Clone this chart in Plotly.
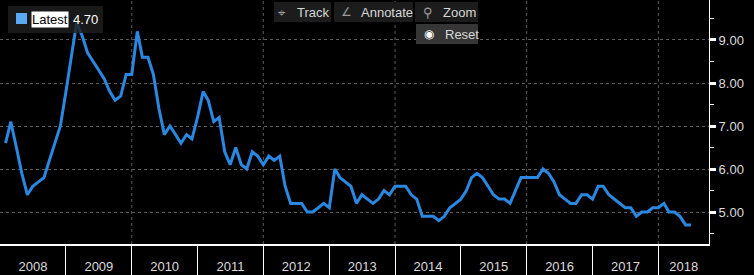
import pandas as pd
import plotly.graph_objects as go

# ---- data (monthly) ----
start_month = "2008-02-01"
values = [
    6.6, 7.1, 6.5, 5.9, 5.4, 5.6, 5.7, 5.8, 6.2, 6.6,
    7.0, 7.8, 8.6, 9.4, 9.1, 8.7, 8.5, 8.3, 8.1, 7.8,
    7.6, 7.7, 8.2, 8.2, 9.2, 8.6, 8.6, 8.2, 7.4, 6.8,
    7.0, 6.8, 6.6, 6.8, 6.7, 7.2, 7.8, 7.6, 7.1, 7.2,
    6.4, 6.1, 6.5, 6.1, 6.0, 6.4, 6.3, 6.1, 6.3, 6.2,
    6.3, 5.6, 5.2, 5.2, 5.2, 5.0, 5.0, 5.1, 5.2, 5.1,
    6.0, 5.8, 5.7, 5.6, 5.2, 5.4, 5.3, 5.2, 5.3, 5.5,
    5.4, 5.6, 5.6, 5.6, 5.4, 5.3, 4.9, 4.9, 4.9, 4.8,
    4.9, 5.1, 5.2, 5.3, 5.5, 5.8, 5.9, 5.8, 5.6, 5.4,
    5.3, 5.3, 5.2, 5.5, 5.8, 5.8, 5.8, 5.8, 6.0, 5.9,
    5.7, 5.4, 5.3, 5.2, 5.2, 5.4, 5.4, 5.3, 5.6, 5.6,
    5.4, 5.3, 5.2, 5.1, 5.1, 4.9, 5.0, 5.0, 5.1, 5.1,
    5.2, 5.0, 5.0, 4.9, 4.7, 4.7,
]
years = [2008, 2009, 2010, 2011, 2012, 2013, 2014, 2015, 2016, 2017, 2018]
grid_years = [2010, 2012, 2014, 2016, 2018]
y_ticks = [5, 6, 7, 8, 9]
y_minor = [4.5, 5.5, 6.5, 7.5, 8.5, 9.5]
latest_label = "Latest"

dates = pd.date_range(start_month, periods=len(values), freq="MS")
x_start = pd.Timestamp("2008-01-01")
x_end = pd.Timestamp("2018-10-09")

# year labels centred in the visible part of each year
label_pos = []
for yv in years:
    a = pd.Timestamp(f"{yv}-01-01")
    b = min(pd.Timestamp(f"{yv + 1}-01-01"), x_end)
    label_pos.append(a + (b - a) / 2)
separators = [pd.Timestamp(f"{yv}-01-01") for yv in years[1:]]

W, H = 754, 275
ML, MR, MT, MB = 0, 45, 0, 31
PW, PH = W - ML - MR, H - MT - MB


def fx(px):
    return (px - ML) / PW


def fy(py):
    return 1 - (py - MT) / PH


BLUE = "#2b88e0"
GRID = "#5c5c5c"
FONT = "Liberation Sans, Arial, sans-serif"

fig = go.Figure()
fig.add_trace(go.Scatter(
    x=dates, y=values, mode="lines",
    line=dict(color=BLUE, width=3),
    hoverinfo="skip", showlegend=False,
))

shapes = []
for gy in grid_years:
    shapes.append(dict(type="line", xref="x", yref="paper",
                       x0=f"{gy}-01-01", x1=f"{gy}-01-01", y0=0, y1=1,
                       line=dict(color=GRID, width=1, dash="dot"), layer="below"))

# legend box
shapes.append(dict(type="rect", xref="paper", yref="paper",
                   x0=fx(8), x1=fx(103), y0=fy(33), y1=fy(6),
                   fillcolor="rgba(30,30,30,0.82)", line=dict(width=0), layer="above"))
shapes.append(dict(type="rect", xref="paper", yref="paper",
                   x0=fx(16), x1=fx(27), y0=fy(24), y1=fy(13),
                   fillcolor="#5aa9f2", line=dict(width=0), layer="above"))

# toolbar boxes
for (x0, x1, y0, y1, col) in [(274, 331, 2, 22, "#1c1c1c"), (334, 413, 2, 22, "#1c1c1c"),
                              (415, 478, 2, 22, "#1c1c1c"), (416, 478, 24, 44, "#363636")]:
    shapes.append(dict(type="rect", xref="paper", yref="paper",
                       x0=fx(x0), x1=fx(x1), y0=fy(y1), y1=fy(y0),
                       fillcolor=col, line=dict(width=0), layer="above"))

annotations = []


def txt(text, px, py, color="#d6d6d6", size=13, anchor="left", bg=None, pad=1):
    d = dict(text=text, xref="paper", yref="paper", x=fx(px), y=fy(py),
             xanchor=anchor, yanchor="middle", showarrow=False,
             font=dict(family=FONT, size=size, color=color), borderpad=pad)
    if bg:
        d["bgcolor"] = bg
    annotations.append(d)


txt(latest_label, 31, 19, color="#000000", bg="#ffffff", pad=0)
txt(f"{values[-1]:.2f}", 71, 19, color="#ffffff")
txt("⌖", 282, 12, color="#9a9a9a", size=13, anchor="center")
txt("Track", 295, 12)
txt("∠", 346, 12, color="#9a9a9a", size=12, anchor="center")
txt("Annotate", 359, 12)
txt("⚲", 428, 12, color="#9a9a9a", size=13, anchor="center")
txt("Zoom", 441, 12)
txt("◉", 429, 34, color="#ffffff", size=12, anchor="center")
txt("Reset", 443, 34)

fig.update_layout(
    width=W, height=H,
    margin=dict(l=ML, r=MR, t=MT, b=MB),
    paper_bgcolor="#000000", plot_bgcolor="#000000",
    font=dict(family=FONT, size=13, color="#dcdcdc"),
    shapes=shapes, annotations=annotations,
    xaxis=dict(
        range=[x_start, x_end],
        tickmode="array", tickvals=label_pos, ticktext=[str(y) for y in years],
        ticks="", showgrid=False, zeroline=False, ticklabelstandoff=9,
        showline=True, linecolor="#ffffff", linewidth=2,
        tickfont=dict(family=FONT, size=13, color="#dcdcdc"),
        minor=dict(tickmode="array", tickvals=separators,
                   ticks="outside", ticklen=31, tickcolor="#ffffff", tickwidth=1,
                   showgrid=False),
        fixedrange=True,
    ),
    yaxis=dict(
        side="right", range=[4.256, 9.93],
        tickmode="array", tickvals=y_ticks, ticktext=[f"{v:.2f}" for v in y_ticks],
        ticks="outside", ticklen=6, tickwidth=3, tickcolor="#ffffff",
        showgrid=True, gridcolor=GRID, griddash="dot", gridwidth=1,
        zeroline=False, showline=True, linecolor="#ffffff", linewidth=1,
        tickfont=dict(family=FONT, size=13, color="#dcdcdc"),
        minor=dict(tickmode="array", tickvals=y_minor, ticks="outside",
                   ticklen=4, tickcolor="#ffffff", tickwidth=1, showgrid=False),
        fixedrange=True,
    ),
)

fig.write_html("out.html", config={"displayModeBar": False})
